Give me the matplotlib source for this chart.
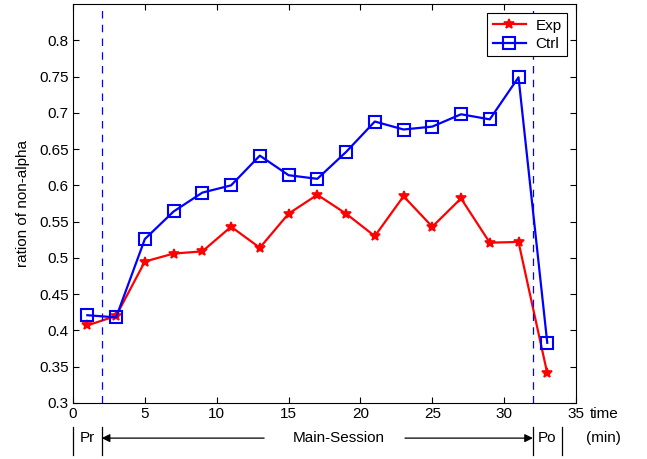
import matplotlib
matplotlib.use("Agg")
import matplotlib.pyplot as plt

plt.rcParams['font.family'] = ['Liberation Sans', 'DejaVu Sans']

time = [1, 3, 5, 7, 9, 11, 13, 15, 17, 19, 21, 23, 25, 27, 29, 31, 33]
exp_vals = [0.407, 0.420, 0.495, 0.506, 0.509, 0.543, 0.514, 0.561, 0.587, 0.561,
            0.530, 0.585, 0.543, 0.582, 0.521, 0.522, 0.341]
ctrl_vals = [0.421, 0.418, 0.526, 0.564, 0.590, 0.600, 0.641, 0.614, 0.609, 0.646,
             0.688, 0.677, 0.681, 0.698, 0.691, 0.749, 0.383]
xticks = [0, 5, 10, 15, 20, 25, 30, 35]
yticks = [0.3, 0.35, 0.4, 0.45, 0.5, 0.55, 0.6, 0.65, 0.7, 0.75, 0.8]
phase_bounds = [0, 2, 32, 34]

FS = 11
fig = plt.figure(figsize=(6.47, 4.59), dpi=100)
ax = fig.add_axes([73/647, 1 - 403/459, (576-73)/647, (403-4)/459])

ax.plot(time, exp_vals, color='red', lw=1.6, marker='*', ms=7, mew=1.2, label='Exp')
ax.plot(time, ctrl_vals, color='blue', lw=1.6, marker='s', ms=8, mfc='none', mew=1.5, label='Ctrl')
ax.axvline(phase_bounds[1], color='blue', ls=(0, (6, 5)), lw=0.9)
ax.axvline(phase_bounds[2], color='blue', ls=(0, (6, 5)), lw=0.9)

ax.set_xlim(0, 35)
ax.set_ylim(0.3, 0.85)
ax.set_xticks(xticks)
ax.set_yticks(yticks)
ax.set_yticklabels([f"{v:g}" for v in yticks])
ax.tick_params(direction='in', top=True, right=True, labelsize=FS, length=4, pad=3)
ax.set_ylabel('ration of non-alpha', fontsize=FS)
ax.yaxis.set_label_coords(-0.085, 0.5)

leg = ax.legend(loc='upper right', fontsize=FS, fancybox=False, edgecolor='black',
                framealpha=1, borderaxespad=0.6, handlelength=2.2, handletextpad=0.6,
                borderpad=0.35, labelspacing=0.3)
leg.get_frame().set_linewidth(0.8)

# time label
ax.annotate('time', xy=(1, 0), xycoords='axes fraction', xytext=(10, -3),
            textcoords='offset points', fontsize=FS, va='top', ha='left',
            annotation_clip=False)

# phase annotation row below axis
trans = ax.get_xaxis_transform()
y_row = -0.088
for b in phase_bounds:
    ax.plot([b, b], [-0.06, -0.13], color='black', lw=0.9, transform=trans, clip_on=False)
ax.text(1, y_row, 'Pr', transform=trans, ha='center', va='center', fontsize=FS)
ax.text(33, y_row, 'Po', transform=trans, ha='center', va='center', fontsize=FS)
ax.text(18.5, y_row, 'Main-Session', transform=trans, ha='center', va='center', fontsize=FS)
ax.text(36.9, y_row, '(min)', transform=trans, ha='center', va='center', fontsize=FS)
ax.annotate('', xy=(2, y_row), xytext=(13.3, y_row), xycoords=trans, textcoords=trans,
            arrowprops=dict(arrowstyle='-|>', color='black', lw=0.9, shrinkA=0, shrinkB=0,
                            mutation_scale=12), annotation_clip=False)
ax.annotate('', xy=(32, y_row), xytext=(23.1, y_row), xycoords=trans, textcoords=trans,
            arrowprops=dict(arrowstyle='-|>', color='black', lw=0.9, shrinkA=0, shrinkB=0,
                            mutation_scale=12), annotation_clip=False)

fig.savefig('out.png', dpi=100)
